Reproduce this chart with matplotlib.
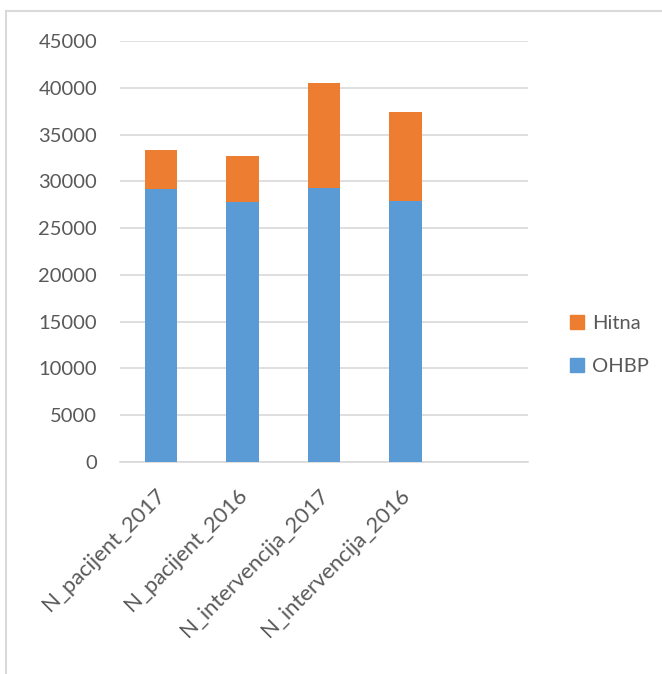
import matplotlib
matplotlib.use("Agg")
import matplotlib.pyplot as plt
from matplotlib.patches import Rectangle, Patch

categories = ["N_pacijent_2017", "N_pacijent_2016", "N_intervencija_2017",
              "N_intervencija_2016", ""]
ohbp = [29150, 27800, 29300, 27850, 0]
hitna = [4250, 4900, 11200, 9550, 0]

GREY = "#595959"
plt.rcParams["font.family"] = ["Lato", "DejaVu Sans"]

fig = plt.figure(figsize=(6.62, 6.74), dpi=100)
ax = fig.add_axes([0.1813, 0.3145, 0.6163, 0.6247])

x = list(range(len(categories)))
ax.bar(x, ohbp, width=0.4, color="#5B9BD5", label="OHBP", zorder=3)
ax.bar(x, hitna, width=0.4, bottom=ohbp, color="#ED7D31", label="Hitna", zorder=3)

ax.set_xlim(-0.5, len(categories) - 0.5)
ax.set_ylim(0, 45000)
ax.set_yticks(range(0, 45001, 5000))
ax.yaxis.grid(True, color="#D9D9D9", linewidth=1.2, zorder=0)
# ticks sit slightly left of the bar centres so the rotated labels line up like Excel
ax.set_xticks([i - 0.07 for i in x])
ax.set_xticklabels(categories, rotation=45, ha="right", rotation_mode="anchor")

for s in ["top", "right", "left"]:
    ax.spines[s].set_visible(False)
ax.spines["bottom"].set_color("#D9D9D9")
ax.spines["bottom"].set_linewidth(1.2)
ax.tick_params(axis="y", length=0, pad=16.5, labelsize=14.5, labelcolor=GREY)
ax.tick_params(axis="x", length=0, pad=16.5, labelsize=15.8, labelcolor=GREY)

handles = [Patch(color="#ED7D31", label="Hitna"), Patch(color="#5B9BD5", label="OHBP")]
fig.legend(handles=handles, loc="center left", bbox_to_anchor=(0.833, 0.488),
           frameon=False, fontsize=14.5, labelcolor=GREY, handlelength=0.7,
           handleheight=0.7, handletextpad=0.4, labelspacing=1.3)

# outer chart border (cut at right and bottom)
fig.patches.append(Rectangle((6 / 662, -0.1), 1.2, 1 - 11 / 674 + 0.1,
                             transform=fig.transFigure, fill=False,
                             edgecolor="#D9D9D9", linewidth=1.5))

fig.savefig("out.png", dpi=100)
